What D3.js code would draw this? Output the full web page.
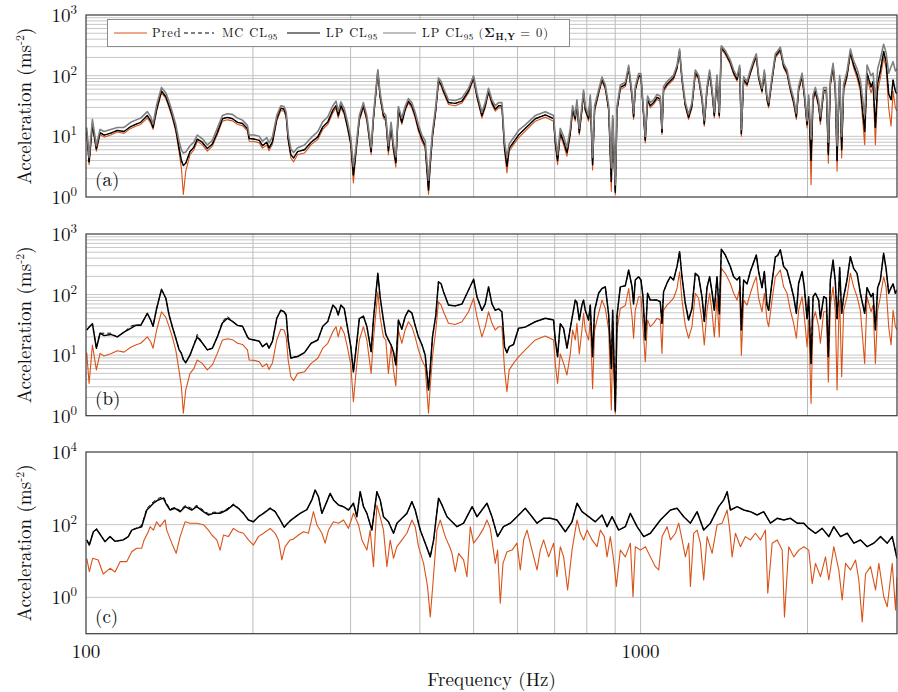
<!DOCTYPE html>
<html>
<head>
<meta charset="utf-8">
<script src="https://cdn.jsdelivr.net/npm/d3@7"></script>
<style>
  body { margin: 0; background: #fff; }
  text { font-family: "Latin Modern Roman", "CMU Serif", "Liberation Serif", "DejaVu Serif", serif; fill: #111; }
</style>
</head>
<body>
<svg id="chart" width="898" height="692"></svg>
<script>
// ---- data ----
// frequency grid (Hz) shared by panels (a) and (b)
const freqAB = [
  100.3, 101.3, 102.7, 104.4, 106.0, 107.8, 110.8, 113.9, 117.1, 120.4,
  122.9, 125.5, 129.0, 130.8, 132.1, 134.1, 136.8, 139.3, 141.2, 143.1,
  145.2, 147.1, 148.6, 149.8, 151.3, 154.0, 156.5, 158.7, 162.0, 165.5,
  169.0, 172.5, 176.2, 179.9, 183.7, 187.6, 191.5, 195.5, 196.9, 201.0,
  205.3, 208.1, 211.8, 213.8, 216.9, 220.8, 224.5, 227.6, 229.6, 231.5,
  234.1, 236.8, 240.8, 247.7, 254.7, 261.8, 267.3, 272.9, 278.7, 282.4,
  285.0, 288.1, 292.1, 295.9, 300.2, 303.5, 306.7, 311.1, 316.4, 320.9,
  326.7, 329.8, 335.9, 339.1, 343.8, 347.2, 351.0, 354.9, 358.4, 362.0,
  365.9, 371.1, 376.2, 381.4, 386.8, 392.2, 397.6, 403.3, 408.9, 414.6,
  417.5, 421.5, 427.4, 432.1, 436.9, 441.2, 450.4, 463.4, 476.4, 489.6,
  499.9, 506.9, 517.5, 524.7, 531.9, 539.5, 547.0, 554.6, 562.3, 568.5,
  574.1, 579.6, 590.1, 602.5, 619.4, 645.8, 673.3, 696.8, 701.7, 708.5,
  716.4, 726.4, 736.7, 746.9, 754.2, 762.5, 767.8, 775.3, 783.9, 789.3,
  794.8, 805.9, 811.6, 819.4, 826.3, 840.1, 852.0, 863.9, 876.0, 885.7,
  890.6, 900.5, 907.0, 919.4, 938.7, 951.8, 965.2, 971.4, 978.2, 991.8,
  1001.6, 1010, 1019.8, 1029.5, 1041, 1055.6, 1070.5, 1085.2, 1093, 1100.2,
  1115.8, 1131.3, 1146.8, 1163.2, 1175.9, 1187.6, 1203.9, 1220.6, 1237.9, 1255.1,
  1272.3, 1290.6, 1302.9, 1317.6, 1332, 1345.3, 1358.3, 1373.4, 1386.8, 1398.3,
  1421.7, 1451.5, 1471.7, 1492.6, 1508.9, 1519.7, 1534.1, 1556, 1577.3, 1599.2,
  1617, 1632.7, 1655.8, 1671.9, 1690.5, 1701.8, 1725.9, 1750, 1766.6, 1786.6,
  1811.5, 1837.1, 1862.7, 1888.2, 1909.6, 1927.7, 1955.4, 1974, 1996.3, 2009.7,
  2029.7, 2046.6, 2066.5, 2094.8, 2109.7, 2139, 2162.8, 2180.8, 2199, 2223.9,
  2245, 2261.1, 2276.2, 2285.7, 2304.7, 2323.9, 2356.7, 2389.5, 2422.2, 2457,
  2490.6, 2535.8, 2561, 2603.8, 2625.5, 2651, 2676.2, 2706.5, 2743.5, 2771.4,
  2801.6, 2829.5, 2853, 2880.7, 2900
];

// Pred (same curve in (a) and (b))
const predAB = [
  11, 3.4, 14.7, 5.7, 10.7, 9.7, 10.5, 11.8, 11.2, 13.5,
  14.7, 15.7, 20, 16.6, 13, 26, 52, 42, 29.5, 20,
  12, 5.7, 3, 1.1, 2.65, 5, 6, 8.3, 7.3, 5.7,
  6.9, 10.7, 17.8, 18.7, 18, 15.7, 15, 12.2, 8.3, 8.2,
  7.8, 6.4, 7.2, 5.8, 7.5, 17.8, 26.7, 26, 20, 8.3,
  4.4, 3.8, 5, 5.3, 7.3, 8.9, 13, 15.7, 24.4, 29.5,
  20, 29.5, 23, 13.8, 7, 1.7, 5, 17.8, 29.5, 17.8,
  5, 17.8, 111, 43, 20, 17.8, 5, 13.8, 5.7, 3.1,
  26, 15.7, 26, 35.6, 29.5, 20, 12.2, 8.3, 6.4, 1.1,
  3, 9.4, 26, 76, 67, 52, 33.5, 32, 35.6, 52,
  87, 43, 20, 29.5, 52, 33.5, 26, 29.5, 29.5, 5.7,
  2.5, 5.7, 7.3, 9.4, 12.2, 17.8, 20.7, 17.8, 7.3, 3.4,
  10.5, 7.3, 4.7, 10.5, 26, 17.8, 33.5, 10.5, 26, 49,
  26, 17.8, 40, 2.8, 26, 49, 81, 59, 26, 1.24,
  17.8, 1.1, 26, 59, 66, 126, 43, 19, 55, 92,
  92, 29.5, 7.8, 38, 29.5, 33.5, 40.6, 38, 10.7, 55,
  67, 76, 87, 126, 238, 81, 31, 19, 29.5, 105,
  87, 38, 14.7, 55, 105, 52, 20, 87, 20, 270,
  224, 154, 105, 81, 126, 10, 81, 67, 105, 154,
  197, 87, 52, 105, 38, 29.5, 81, 197, 220, 254,
  134, 105, 55, 33.5, 19, 55, 92, 43, 13.8, 38,
  1.6, 38, 52, 29.5, 15.7, 52, 52, 3.6, 67, 134,
  52, 2.65, 33.5, 81, 4.4, 55, 92, 225, 134, 92,
  55, 7.3, 92, 52, 67, 7.3, 55, 92, 197, 134,
  29.5, 14.7, 55, 29.5, 26
];

// panel (a): LP CL95 and LP CL95 with Sigma_HY = 0
const lpA = [
  11.8, 3.8, 16, 6.2, 11.5, 10.5, 11.3, 12.5, 12, 14.5,
  15.8, 17, 22, 18, 14, 28, 56, 45, 32, 22,
  13, 6.5, 4, 3.3, 3.6, 5.6, 6.6, 9, 8, 6.3,
  7.5, 11.6, 19.5, 20.5, 19.5, 17, 16.3, 13.3, 9.2, 9,
  8.6, 7, 8, 6.4, 8.2, 19.5, 29, 28, 22, 9.2,
  5, 4.4, 5.6, 6, 8, 9.8, 14.3, 17.3, 27, 32,
  22, 32, 25, 15, 7.8, 2.3, 5.6, 19.5, 32, 19.5,
  5.6, 19.5, 118, 46, 22, 19.5, 5.8, 15, 6.3, 3.7,
  28, 17, 28, 38, 32, 22, 13.3, 9.2, 7, 1.3,
  3.5, 10.3, 28, 82, 72, 56, 36, 35, 38, 56,
  93, 46, 22, 32, 56, 36, 28, 32, 32, 6.5,
  3.2, 6.4, 8, 10.5, 13.5, 19.5, 22.5, 19.5, 8.2, 4,
  11.5, 8.2, 5.4, 11.5, 28, 19.5, 36, 11.5, 28, 53,
  28, 19.5, 43, 3.4, 28, 53, 87, 64, 28, 1.8,
  19.5, 1.2, 28, 64, 71, 135, 46, 21, 59, 99,
  99, 32, 8.6, 41, 32, 36, 44, 41, 11.7, 59,
  72, 82, 93, 135, 255, 87, 33, 20.5, 32, 112,
  93, 41, 16, 59, 112, 56, 22, 93, 22, 285,
  240, 165, 112, 87, 135, 11, 87, 72, 112, 165,
  210, 93, 56, 112, 41, 32, 87, 210, 235, 270,
  143, 112, 60, 37, 21, 60, 99, 47, 15.5, 42,
  4, 42, 57, 33, 18, 57, 57, 5, 74, 145,
  57, 4, 37, 89, 6, 62, 102, 245, 150, 105,
  65, 12, 110, 65, 80, 14, 75, 120, 250, 170,
  50, 40, 85, 55, 50
];
const mcA = lpA; // MC and LP bounds coincide in (a)
const lpZeroA = [
  14, 4.5, 19, 7, 13, 12, 13, 14, 14, 17,
  18.5, 20, 25.5, 21, 16, 33, 64, 52, 37, 25,
  15.5, 8.5, 6, 5.3, 5.5, 7, 8, 10.5, 9.2, 7.2,
  8.6, 13.5, 22, 23.5, 23, 20, 18.5, 15, 10.5, 10.5,
  10, 8.3, 9.5, 7.8, 9.8, 22, 32, 31, 25, 11,
  6.2, 5.4, 6.5, 7.2, 9.5, 12, 17.5, 21, 32, 38,
  26, 37, 29, 18, 9.5, 3.2, 6.5, 22, 36, 22,
  6.5, 22, 125, 52, 25, 22, 7, 17, 7.5, 4.6,
  31, 20, 31, 42, 36, 25, 15.5, 10.5, 8.5, 1.9,
  4.3, 12, 32, 92, 80, 62, 40, 39, 43, 62,
  100, 52, 25, 36, 62, 40, 32, 36, 36, 8,
  4.5, 7.5, 9.5, 12.5, 15.5, 22, 25.5, 22, 10, 5,
  13.5, 10, 6.5, 13.5, 32, 22, 40, 13.5, 32, 58,
  32, 22, 48, 4.5, 32, 58, 95, 70, 32, 3,
  22, 1.6, 32, 70, 78, 148, 52, 24, 66, 108,
  108, 36, 10, 46, 36, 40, 49, 46, 13.5, 66,
  80, 90, 102, 148, 275, 96, 37, 23, 36, 124,
  102, 46, 18.5, 66, 124, 62, 25, 102, 25, 310,
  260, 180, 124, 96, 148, 13, 96, 80, 124, 180,
  230, 102, 62, 124, 46, 36, 96, 230, 255, 295,
  158, 124, 67, 42, 24, 67, 110, 53, 18, 48,
  9, 48, 64, 38, 21, 64, 64, 8, 84, 160,
  64, 7, 42, 100, 10, 72, 118, 275, 175, 130,
  85, 22, 150, 100, 110, 40, 130, 190, 330, 240,
  110, 140, 170, 120, 130
];

// panel (b): LP CL95 and MC CL95
const lpB = [
  26, 29, 33, 13, 23, 21, 22, 20, 24, 27.7,
  31, 31, 49, 38, 30, 59, 122, 87, 46, 29.5,
  19, 12.5, 10.7, 8.5, 7.5, 10, 14.7, 20, 16, 12.2,
  13, 20, 34, 40.6, 36, 31, 30, 20, 18.5, 17.8,
  17, 13.8, 15.7, 13, 17, 40.6, 55, 52, 46, 17.8,
  8.9, 9.2, 9.5, 11, 15.7, 17.8, 30, 36, 67, 59,
  46, 67, 59, 30, 14, 5.3, 12, 40, 44, 30,
  11.4, 38, 224, 92, 38, 22, 17.8, 14.7, 11.4, 6.9,
  38, 26.7, 43, 55, 50, 31, 20, 15, 10, 2.65,
  6, 20, 46, 163, 150, 111, 67, 65, 70, 119,
  179, 92, 55, 70, 134, 70, 55, 58, 52, 13.8,
  11, 13.8, 15, 27.7, 29, 35.6, 40.6, 38, 17.8, 9.4,
  33, 27.7, 13, 27.7, 46, 81, 74, 38, 67, 81,
  55, 38, 67, 9.4, 55, 105, 126, 134, 46, 6,
  55, 1.2, 46, 134, 140, 254, 134, 70, 174, 197,
  174, 92, 17.8, 105, 81, 81, 81, 76, 33.5, 111,
  154, 197, 174, 290, 510, 197, 72, 38, 59, 224,
  200, 92, 36, 130, 197, 111, 55, 197, 48, 560,
  450, 290, 197, 174, 197, 26, 174, 150, 240, 340,
  450, 240, 130, 240, 67, 55, 160, 420, 440, 548,
  290, 250, 154, 92, 49, 154, 240, 130, 40, 92,
  7.3, 92, 105, 81, 40, 92, 87, 9.4, 174, 371,
  160, 40, 105, 280, 49, 92, 174, 422, 270, 224,
  105, 49, 130, 92, 105, 26, 130, 174, 480, 270,
  105, 130, 150, 105, 120
];
const mcB = [
  26, 29, 33, 13, 23, 23, 23, 20, 24, 30,
  32, 31, 49, 38, 30, 59, 122, 87, 46, 29.5,
  19, 12.5, 10.7, 8.5, 7.5, 10, 14.7, 22, 16, 12.2,
  13, 20, 36, 44, 36, 31, 30, 20, 18.5, 17.8,
  17, 13.8, 15.7, 13, 17, 40.6, 55, 52, 46, 17.8,
  8.9, 9.2, 9.5, 11, 15.7, 17.8, 30, 36, 67, 59,
  46, 67, 59, 30, 14, 5.3, 12, 40, 44, 30,
  11.4, 38, 224, 92, 38, 22, 17.8, 14.7, 11.4, 6.9,
  38, 26.7, 43, 55, 50, 31, 20, 15, 10, 2.65,
  6, 20, 46, 163, 150, 111, 67, 65, 70, 119,
  179, 92, 55, 70, 134, 70, 55, 58, 52, 13.8,
  11, 13.8, 15, 27.7, 29, 35.6, 40.6, 38, 17.8, 9.4,
  33, 27.7, 13, 27.7, 46, 81, 74, 38, 67, 81,
  55, 38, 67, 9.4, 55, 105, 126, 134, 46, 6,
  55, 1.2, 46, 134, 140, 254, 134, 70, 174, 197,
  174, 92, 17.8, 105, 81, 81, 81, 76, 33.5, 111,
  154, 197, 174, 290, 510, 197, 72, 38, 59, 224,
  200, 92, 36, 130, 197, 111, 55, 197, 48, 560,
  450, 290, 197, 174, 197, 26, 174, 150, 240, 340,
  450, 240, 130, 240, 67, 55, 160, 420, 440, 548,
  290, 250, 154, 92, 49, 154, 240, 130, 40, 92,
  7.3, 92, 105, 81, 40, 92, 87, 9.4, 174, 371,
  160, 40, 105, 280, 49, 92, 174, 422, 270, 224,
  105, 49, 130, 92, 105, 26, 130, 174, 480, 270,
  105, 130, 150, 105, 120
];

// panel (c): Pred
const freqPredC = [
  100.3, 101.4, 102.8, 105.2, 107.4, 110.5, 112.8, 115.2, 118.4, 120.9,
  123.4, 126.0, 127.3, 129.5, 130.5, 132.3, 134.1, 136.0, 138.9, 139.8,
  142.8, 145.4, 147.8, 150.9, 154.0, 158.4, 162.8, 166.2, 168.6, 172.1,
  174.5, 177.0, 180.6, 184.4, 188.3, 192.2, 196.3, 200.4, 204.6, 209.0,
  214.8, 219.3, 222.3, 225.5, 228.6, 233.4, 236.6, 241.6, 246.7, 251.8,
  257.1, 260.8, 266.3, 269.9, 273.7, 279.4, 285.3, 291.3, 297.4, 303.6,
  310.0, 314.4, 321.0, 325.4, 329.9, 334.6, 339.2, 343.9, 348.8, 353.6,
  358.5, 363.6, 371.3, 379.0, 387.0, 392.3, 397.8, 406.2, 412.9, 417.6,
  422.3, 429.4, 435.3, 444.4, 453.8, 457.0, 463.3, 469.7, 479.6, 486.3,
  493.1, 500.0, 510.4, 521.0, 528.5, 535.8, 547.0, 552.3, 558.5, 564.8,
  574.3, 586.4, 598.6, 606.9, 615.4, 624.1, 637.2, 650.5, 659.5, 668.6,
  682.6, 697.0, 706.9, 716.6, 726.6, 738.7, 752.3, 768.1, 778.7, 789.5,
  800.7, 817.6, 834.7, 846.2, 860.4, 870.1, 882.1, 894.2, 904.4, 919.5,
  938.8, 958.5, 969.0, 978.6, 999.2, 1020.2, 1041.6, 1063.4, 1078.2, 1093.5,
  1116.4, 1131.9, 1155.6, 1171.5, 1188.2, 1204.6, 1221.3, 1229.9, 1246.9, 1264.6,
  1282.0, 1299.7, 1318.2, 1345.9, 1374.2, 1403.1, 1432.5, 1448.1, 1462.4, 1482.7,
  1513.9, 1545.6, 1578.1, 1611.2, 1645.0, 1679.5, 1695.8, 1727.1, 1763.2, 1800.3,
  1817.5, 1850.3, 1889.3, 1928.8, 1969.3, 2010.6, 2039.3, 2067.4, 2110.8, 2155.1,
  2184.9, 2230.6, 2277.5, 2309.9, 2341.9, 2391.0, 2441.2, 2474.9, 2510.0, 2544.8,
  2598.2, 2652.8, 2689.4, 2745.5, 2784.9, 2843.0, 2882.6, 2900
];
const predC = [
  11.9, 5.1, 11.9, 10.7, 4.4, 6.3, 5, 9.6, 9.6, 18,
  22.4, 22.4, 38, 64, 88, 71, 120, 88, 135, 71,
  31, 16.3, 47, 120, 110, 110, 100, 71, 52, 38,
  20, 52, 47, 79, 64, 58, 38, 27.5, 47, 58,
  79, 58, 38, 10.7, 24.8, 38, 40, 52, 64, 58,
  228, 100, 58, 31, 71, 120, 110, 135, 79, 206,
  100, 38, 20, 71, 7, 347, 165, 71, 7, 38,
  11.9, 24.8, 38, 58, 135, 88, 24.8, 8.6, 2, 0.29,
  2.4, 71, 135, 47, 22.4, 16.3, 5.1, 16.3, 10.7, 3.7,
  88, 31, 47, 79, 135, 79, 8.6, 20, 0.69, 8.6,
  18, 20, 31, 5.7, 38, 71, 20, 5.7, 20, 38,
  13, 31, 3.7, 24.8, 13, 1.6, 20, 135, 58, 38,
  71, 38, 24.8, 71, 47, 13, 47, 10.7, 2, 20,
  13, 31, 1.04, 24.8, 20, 24.8, 13, 7, 5.7, 47,
  88, 38, 58, 110, 38, 13, 31, 2, 58, 71,
  31, 3, 47, 16.3, 100, 110, 253, 71, 13, 58,
  24.8, 47, 38, 58, 38, 71, 1.3, 31, 38, 20,
  0.29, 24.8, 13, 20, 24.8, 20, 2.4, 8.6, 3.7, 13,
  3, 24.8, 5.7, 0.85, 8.6, 5.7, 10.7, 3, 0.21, 4.4,
  7, 1.6, 8.6, 1.04, 0.55, 8.6, 0.45, 3.7
];

// panel (c): LP CL95 and MC CL95
const freqLpC = [
  100.3, 101.4, 103.1, 104.5, 106.7, 108.2, 110.5, 112.8, 116.7, 119.2,
  120.9, 123.4, 126.0, 128.7, 130.5, 132.3, 135.0, 137.9, 139.8, 141.8,
  144.7, 147.8, 150.9, 155.1, 158.4, 162.8, 166.2, 169.7, 174.5, 179.4,
  184.4, 188.3, 192.2, 196.3, 200.4, 204.6, 209.0, 214.8, 219.3, 223.9,
  227.7, 231.8, 236.6, 243.3, 250.2, 255.4, 258.9, 262.5, 266.3, 271.8,
  275.6, 279.4, 285.3, 291.3, 297.4, 303.6, 307.9, 312.2, 316.5, 321.0,
  327.7, 334.6, 339.2, 343.9, 351.1, 358.5, 363.6, 368.6, 379.0, 387.0,
  392.3, 400.6, 409.0, 417.6, 423.5, 432.2, 438.4, 447.6, 453.8, 466.6,
  479.6, 496.9, 507.0, 528.5, 539.6, 552.3, 566.0, 582.2, 598.6, 619.6,
  637.2, 650.5, 668.6, 687.5, 706.9, 731.7, 752.3, 768.1, 784.3, 806.1,
  828.8, 852.2, 870.1, 888.4, 913.0, 938.8, 958.5, 985.6, 1013.3, 1041.6,
  1085.8, 1131.9, 1163.8, 1196.4, 1229.9, 1264.6, 1299.7, 1336.4, 1383.4, 1412.4,
  1432.5, 1452.2, 1493.3, 1535.0, 1578.1, 1622.6, 1667.3, 1714.8, 1763.2, 1812.9,
  1863.4, 1916.1, 1969.3, 2010.6, 2067.4, 2125.4, 2184.9, 2230.6, 2293.7, 2358.5,
  2424.5, 2492.5, 2562.9, 2633.3, 2708.5, 2784.9, 2843.0, 2900
];
const lpC = [
  38, 27.5, 64, 75, 47, 34, 47, 35, 38, 47,
  71, 79, 88, 253, 313, 390, 480, 537, 349, 253,
  282, 228, 313, 253, 313, 228, 185, 205, 205, 253,
  349, 282, 205, 135, 120, 166, 205, 282, 228, 135,
  85, 115, 150, 205, 260, 480, 900, 590, 205, 430,
  728, 480, 349, 313, 253, 390, 166, 810, 313, 205,
  71, 810, 480, 166, 120, 58, 110, 135, 205, 430,
  253, 71, 31, 13, 38, 537, 349, 166, 135, 88,
  110, 313, 166, 390, 166, 47, 88, 110, 166, 282,
  166, 110, 150, 150, 135, 64, 120, 390, 228, 166,
  120, 185, 88, 166, 71, 88, 205, 88, 47, 58,
  135, 253, 282, 166, 110, 228, 71, 110, 313, 480,
  810, 253, 313, 253, 228, 185, 228, 110, 150, 135,
  150, 110, 110, 79, 58, 79, 47, 88, 47, 58,
  31, 38, 24.8, 31, 47, 31, 47, 11.9
];
const mcC = [
  38, 27.5, 64, 78, 47, 34, 47, 35, 38, 47,
  71, 82, 95, 280, 345, 430, 530, 590, 380, 270,
  300, 245, 340, 280, 340, 250, 200, 220, 220, 270,
  370, 290, 210, 135, 120, 166, 210, 290, 235, 140,
  85, 120, 155, 205, 260, 480, 900, 590, 205, 430,
  728, 480, 349, 313, 253, 390, 166, 810, 313, 205,
  71, 810, 480, 166, 120, 58, 110, 135, 205, 430,
  253, 71, 31, 13, 38, 537, 349, 166, 135, 88,
  110, 313, 166, 390, 166, 47, 88, 110, 166, 282,
  166, 110, 150, 150, 135, 64, 120, 390, 228, 166,
  120, 185, 88, 166, 71, 88, 205, 88, 47, 58,
  135, 253, 282, 166, 110, 228, 71, 110, 313, 480,
  810, 253, 313, 253, 228, 185, 228, 110, 150, 135,
  150, 110, 110, 79, 58, 79, 47, 88, 47, 58,
  31, 38, 24.8, 31, 47, 31, 47, 11.9
];

// ticks
const xGridHz = [200, 300, 400, 500, 600, 700, 800, 900, 1000, 2000];
const xTickLabels = [100, 1000];
const yTicksAB = [1, 10, 100, 1000];
const yTicksC = [1, 100, 10000];

// ---- drawing ----
const ORANGE = "#D95319", GREY = "#7f7f7f";
const svg = d3.select("#chart");
const x = d3.scaleLog().domain([100, 2900]).range([86, 897]);
const [xL, xR] = x.range();

const panels = [
  { label: "(a)", top: 15, bottom: 197, domain: [1, 1000], ticks: yTicksAB, minorGrid: true,
    series: [
      { f: freqAB, v: predAB, color: ORANGE, w: 1.1 },
      { f: freqAB, v: mcA, color: "#000", w: 1, dash: "4,3" },
      { f: freqAB, v: lpA, color: "#000", w: 1.4 },
      { f: freqAB, v: lpZeroA, color: GREY, w: 1.6 }
    ] },
  { label: "(b)", top: 234, bottom: 415.7, domain: [1, 1000], ticks: yTicksAB, minorGrid: true,
    series: [
      { f: freqAB, v: predAB, color: ORANGE, w: 1.1 },
      { f: freqAB, v: mcB, color: "#000", w: 1, dash: "4,3" },
      { f: freqAB, v: lpB, color: "#000", w: 1.5 }
    ] },
  { label: "(c)", top: 452, bottom: 633.7, domain: [0.1, 10000], ticks: yTicksC, minorGrid: false,
    series: [
      { f: freqPredC, v: predC, color: ORANGE, w: 1.1 },
      { f: freqLpC, v: mcC, color: "#000", w: 1, dash: "4,3" },
      { f: freqLpC, v: lpC, color: "#000", w: 1.5 }
    ] }
];

const defs = svg.append("defs");

panels.forEach((p, i) => {
  const y = d3.scaleLog().domain(p.domain).range([p.bottom, p.top]);
  const g = svg.append("g");

  defs.append("clipPath").attr("id", "clip" + i)
    .append("rect").attr("x", xL).attr("y", p.top)
    .attr("width", xR - xL).attr("height", p.bottom - p.top);

  // horizontal grid
  const hg = p.minorGrid ? y.ticks().filter(t => t > p.domain[0] && t < p.domain[1])
                         : p.ticks.filter(t => t > p.domain[0] && t < p.domain[1]);
  g.selectAll(".hg").data(hg).join("line")
    .attr("x1", xL).attr("x2", xR)
    .attr("y1", d => y(d)).attr("y2", d => y(d))
    .attr("stroke", "#c6c6c6").attr("stroke-width", 1);

  // vertical grid
  g.selectAll(".vg").data(xGridHz).join("line")
    .attr("x1", d => x(d)).attr("x2", d => x(d))
    .attr("y1", p.top).attr("y2", p.bottom)
    .attr("stroke", "#bcbcbc").attr("stroke-width", 1);

  // series
  const lines = g.append("g").attr("clip-path", `url(#clip${i})`);
  p.series.forEach(s => {
    const pts = d3.zip(s.f, s.v);
    lines.append("path")
      .attr("d", d3.line().x(d => x(d[0])).y(d => y(d[1]))(pts))
      .attr("fill", "none")
      .attr("stroke", s.color)
      .attr("stroke-width", s.w)
      .attr("stroke-linejoin", "round")
      .attr("stroke-dasharray", s.dash || null);
  });

  // frame
  g.append("rect").attr("x", xL).attr("y", p.top)
    .attr("width", xR - xL).attr("height", p.bottom - p.top)
    .attr("fill", "none").attr("stroke", "#3a3a3a").attr("stroke-width", 1.2);

  // y tick labels 10^n
  p.ticks.forEach(t => {
    const lbl = g.append("text")
      .attr("x", 77).attr("y", y(t) + 7)
      .attr("text-anchor", "end").attr("font-size", 19);
    lbl.append("tspan").text("10");
    lbl.append("tspan").attr("dy", -8).attr("font-size", 13).text(String(Math.round(Math.log10(t))));
  });

  // y axis title
  const yt = g.append("text")
    .attr("transform", `translate(31,${(p.top + p.bottom) / 2}) rotate(-90)`)
    .attr("text-anchor", "middle").attr("font-size", 19);
  yt.append("tspan").text("Acceleration (ms");
  yt.append("tspan").attr("dy", -7).attr("font-size", 12).text("-2");
  yt.append("tspan").attr("dy", 7).text(")");

  // panel letter
  g.append("text").attr("x", 95).attr("y", p.bottom - 11)
    .attr("font-size", 19).text(p.label);

  // x tick labels on the bottom panel
  if (i === panels.length - 1) {
    g.selectAll(".xl").data(xTickLabels).join("text")
      .attr("x", d => x(d)).attr("y", p.bottom + 24)
      .attr("text-anchor", "middle").attr("font-size", 19)
      .text(d => d);
    g.append("text").attr("x", (xL + xR) / 2).attr("y", 686)
      .attr("text-anchor", "middle").attr("font-size", 19)
      .text("Frequency (Hz)");
  }
});

// legend in panel (a)
const lg = svg.append("g");
lg.append("rect").attr("x", 107.5).attr("y", 19.5).attr("width", 462).attr("height", 27)
  .attr("fill", "#fff").attr("stroke", "#8c8c8c").attr("stroke-width", 1);
const legendItems = [
  { x0: 114, x1: 147, tx: 152, color: ORANGE, w: 1, name: "Pred" },
  { x0: 184, x1: 214, tx: 222, color: "#000", w: 1, dash: "4,3", name: "MC CL", sub: "95" },
  { x0: 287, x1: 320, tx: 326, color: "#000", w: 1.2, name: "LP CL", sub: "95" },
  { x0: 383, x1: 416, tx: 422, color: GREY, w: 1.2, name: "LP CL", sub: "95", extra: true }
];
legendItems.forEach(it => {
  lg.append("line").attr("x1", it.x0).attr("x2", it.x1).attr("y1", 33).attr("y2", 33)
    .attr("stroke", it.color).attr("stroke-width", it.w)
    .attr("stroke-dasharray", it.dash || null);
  const t = lg.append("text").attr("x", it.tx).attr("y", 37)
    .attr("font-size", 12.5).attr("letter-spacing", 0.9);
  t.append("tspan").text(it.name);
  if (it.sub) t.append("tspan").attr("dy", 3).attr("font-size", 9).attr("letter-spacing", 0.3).text(it.sub);
  if (it.extra) {
    t.append("tspan").attr("dy", -3).text(" (");
    t.append("tspan").attr("font-weight", "bold").text("Σ");
    t.append("tspan").attr("dy", 3).attr("font-size", 9).attr("font-weight", "bold")
      .attr("letter-spacing", 0.3).text("H,Y");
    t.append("tspan").attr("dy", -3).text(" = 0)");
  }
});
</script>
</body>
</html>
